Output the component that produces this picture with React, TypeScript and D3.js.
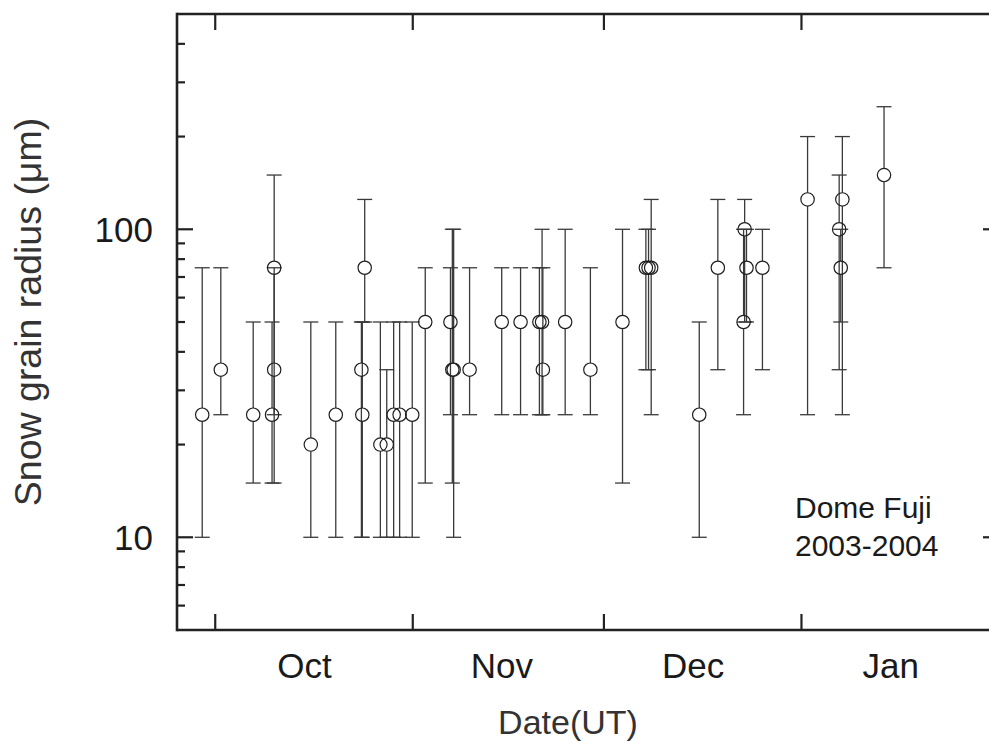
import React from "react";
import * as d3 from "d3";

// Snow grain radius observations at Dome Fuji, 2003-2004 season
const obsTimes = [
  "2003-09-28T23:00", "2003-10-01T21:00", "2003-10-06T23:00",
  "2003-10-10T06:00", "2003-10-10T06:00", "2003-10-09T22:00",
  "2003-10-16T00:00", "2003-10-19T22:00",
  "2003-10-24T11:00", "2003-10-23T22:30", "2003-10-24T02:00",
  "2003-10-26T22:00", "2003-10-27T22:00",
  "2003-10-29T00:00", "2003-10-29T22:30", "2003-10-31T22:00",
  "2003-11-02T23:00",
  "2003-11-06T22:00", "2003-11-07T05:00", "2003-11-07T10:00",
  "2003-11-09T22:00", "2003-11-14T23:00", "2003-11-17T22:00",
  "2003-11-20T21:00", "2003-11-21T07:00", "2003-11-21T10:00",
  "2003-11-24T22:00", "2003-11-28T21:00",
  "2003-12-03T22:00",
  "2003-12-07T14:00", "2003-12-08T00:00", "2003-12-08T10:00",
  "2003-12-15T23:00", "2003-12-18T21:00",
  "2003-12-22T22:00", "2003-12-23T02:00", "2003-12-23T09:00",
  "2003-12-25T21:00",
  "2004-01-01T23:00",
  "2004-01-06T22:00", "2004-01-07T04:00", "2004-01-07T10:00",
  "2004-01-13T23:00",
];

const grainRadius = [
  25, 35, 25,
  75, 35, 25,
  20, 25,
  75, 35, 25,
  20, 20,
  25, 25, 25,
  50,
  50, 35, 35,
  35, 50, 50,
  50, 50, 35,
  50, 35,
  50,
  75, 75, 75,
  25, 75,
  50, 100, 75,
  75,
  125,
  100, 75, 125,
  150,
];

const radiusLow = [
  10, 25, 15,
  25, 15, 15,
  10, 10,
  50, 10, 10,
  10, 10,
  10, 10, 10,
  15,
  25, 15, 10,
  25, 25, 25,
  25, 25, 25,
  25, 25,
  15,
  35, 35, 25,
  10, 35,
  25, 50, 50,
  35,
  25,
  35, 50, 25,
  75,
];

const radiusHigh = [
  75, 75, 50,
  150, 75, 50,
  50, 50,
  125, 50, 50,
  50, 35,
  50, 50, 50,
  75,
  75, 100, 100,
  75, 75, 75,
  75, 100, 75,
  100, 75,
  100,
  100, 100, 125,
  50, 125,
  100, 125, 100,
  100,
  200,
  150, 100, 200,
  250,
];

const yMajorTicks = [10, 100];
const siteLabel = ["Dome Fuji", "2003-2004"];

const W = 989;
const H = 744;
const left = 177;
const right = 999;
const top = 14;
const bottom = 630;

const FONT = "'Liberation Sans', Arial, Helvetica, sans-serif";

export default function App() {
  const x = d3
    .scaleTime()
    .domain([new Date(2003, 8, 25), new Date(2004, 1, 1)])
    .range([left, right]);
  const y = d3.scaleLog().domain([5, 500]).range([bottom, top]);

  const monthStarts = d3.timeMonth.range(x.domain()[0], x.domain()[1]).filter((d) => x(d) > left + 1);
  const monthMids = monthStarts.map((d) => new Date(d.getFullYear(), d.getMonth(), 15));
  const fmtMonth = d3.timeFormat("%b");

  const yTicks = y.ticks().filter((v) => v > 5 && v < 500);

  const r = 6.7;
  const capHalf = 7.5;

  const points = obsTimes.map((t, i) => ({
    date: new Date(t),
    v: grainRadius[i],
    lo: radiusLow[i],
    hi: radiusHigh[i],
  }));

  return (
    <svg
      width={W}
      height={H}
      style={{ position: "absolute", left: 0, top: 0, background: "#fff" }}
      fontFamily={FONT}
    >
      {/* error bars, split around the open circle */}
      <g stroke="#3a3a3a" strokeWidth={1.3} fill="none">
        {points.map((p, i) => {
          const cx = x(p.date);
          const cy = y(p.v);
          const yl = y(p.lo);
          const yh = y(p.hi);
          return (
            <g key={i}>
              {yh < cy - r && <line x1={cx} x2={cx} y1={yh} y2={cy - r} />}
              {yl > cy + r && <line x1={cx} x2={cx} y1={cy + r} y2={yl} />}
              <line x1={cx - capHalf} x2={cx + capHalf} y1={yh} y2={yh} />
              <line x1={cx - capHalf} x2={cx + capHalf} y1={yl} y2={yl} />
            </g>
          );
        })}
      </g>

      {/* observation markers */}
      <g stroke="#1e1e1e" strokeWidth={1.2} fill="none">
        {points.map((p, i) => (
          <circle key={i} cx={x(p.date)} cy={y(p.v)} r={r} />
        ))}
      </g>

      {/* frame */}
      <g stroke="#222" strokeWidth={2.6} fill="none">
        <line x1={left} x2={left} y1={top - 1.3} y2={bottom + 1.3} />
        <line x1={left} x2={right} y1={top} y2={top} />
        <line x1={left} x2={right} y1={bottom} y2={bottom} />
        <line x1={right} x2={right} y1={top} y2={bottom} />
      </g>

      {/* y ticks */}
      <g stroke="#222" strokeWidth={2.2}>
        {yTicks.map((v) => {
          const major = yMajorTicks.includes(v);
          const len = major ? 16 : 8;
          return (
            <g key={v}>
              <line x1={left} x2={left + len} y1={y(v)} y2={y(v)} />
              {major && <line x1={right} x2={right - len} y1={y(v)} y2={y(v)} />}
            </g>
          );
        })}
      </g>

      {/* x ticks at month boundaries */}
      <g stroke="#222" strokeWidth={2.2}>
        {monthStarts.map((d, i) => (
          <g key={i}>
            <line x1={x(d)} x2={x(d)} y1={bottom} y2={bottom - 16} />
            <line x1={x(d)} x2={x(d)} y1={top} y2={top + 16} />
          </g>
        ))}
      </g>

      {/* tick labels */}
      <g fill="#1a1a1a" fontSize={35}>
        {yMajorTicks.map((v) => (
          <text key={v} x={153} y={y(v)} dy="0.355em" textAnchor="end">
            {v}
          </text>
        ))}
        {monthMids.map((d, i) => (
          <text key={i} x={x(d)} y={678} textAnchor="middle">
            {fmtMonth(d)}
          </text>
        ))}
      </g>

      {/* axis titles */}
      <text x={568} y={734} textAnchor="middle" fontSize={34} fill="#333">
        Date(UT)
      </text>
      <text
        transform="translate(41, 312) rotate(-90)"
        textAnchor="middle"
        fontSize={37.5}
        fill="#333"
      >
        Snow grain radius (μm)
      </text>

      {/* site annotation */}
      <g fill="#1a1a1a" fontSize={30}>
        {siteLabel.map((s, i) => (
          <text key={i} x={795} y={518 + i * 38}>
            {s}
          </text>
        ))}
      </g>
    </svg>
  );
}
